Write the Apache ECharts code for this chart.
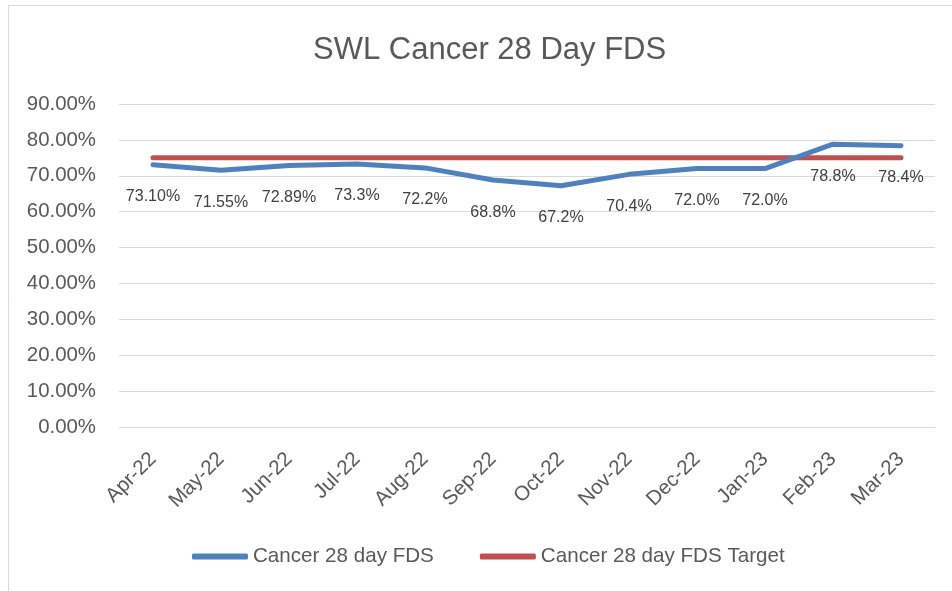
<!DOCTYPE html>
<html><head><meta charset="utf-8">
<script src="https://cdn.jsdelivr.net/npm/echarts@6/dist/echarts.min.js"></script>
<style>html,body{margin:0;padding:0;background:#fff}#c{width:952px;height:591px}</style>
</head><body><div id="c"></div>
<script>
const categories = ['Apr-22','May-22','Jun-22','Jul-22','Aug-22','Sep-22','Oct-22','Nov-22','Dec-22','Jan-23','Feb-23','Mar-23'];
const fdsValues = [73.10, 71.55, 72.89, 73.3, 72.2, 68.8, 67.2, 70.4, 72.0, 72.0, 78.8, 78.4];
const fdsLabels = ['73.10%','71.55%','72.89%','73.3%','72.2%','68.8%','67.2%','70.4%','72.0%','72.0%','78.8%','78.4%'];
const targetValues = [75, 75, 75, 75, 75, 75, 75, 75, 75, 75, 75, 75];
const yTicks = [0, 10, 20, 30, 40, 50, 60, 70, 80, 90];

const font = 'Liberation Sans';
const chart = echarts.init(document.getElementById('c'), null, {renderer: 'canvas'});
chart.setOption({
  animation: false,
  textStyle: {fontFamily: font},
  graphic: [{
    type: 'polyline', silent: true,
    shape: {points: [[8.5, 591], [8.5, 5.5], [952, 5.5]]},
    style: {stroke: '#d9d9d9', lineWidth: 1, fill: null}
  }],
  title: {
    text: 'SWL Cancer 28 Day FDS', left: 308, top: 30,
    textStyle: {fontFamily: font, fontSize: 31, fontWeight: 'normal', color: '#595959'}
  },
  legend: {
    top: 541, left: 187, itemGap: 46, itemWidth: 56, itemHeight: 6,
    icon: 'roundRect',
    textStyle: {fontFamily: font, fontSize: 20.6, color: '#595959'},
    data: ['Cancer 28 day FDS', 'Cancer 28 day FDS Target']
  },
  grid: {left: 119, right: 17, top: 104, bottom: 164, containLabel: false},
  xAxis: {
    type: 'category', data: categories, boundaryGap: true,
    axisLine: {show: true, lineStyle: {color: '#d9d9d9', width: 1}},
    axisTick: {show: false},
    axisLabel: {rotate: 45, fontFamily: font, fontSize: 20.5, color: '#595959', margin: 29}
  },
  yAxis: {
    type: 'value', min: 0, max: 90, interval: 10,
    axisLine: {show: false}, axisTick: {show: false},
    splitLine: {lineStyle: {color: '#d9d9d9', width: 1}},
    axisLabel: {fontFamily: font, fontSize: 20.4, color: '#595959', margin: 23,
      formatter: v => yTicks.includes(v) ? v.toFixed(2) + '%' : ''}
  },
  series: [{
    name: 'Cancer 28 day FDS', type: 'line', data: fdsValues,
    symbol: 'circle', symbolSize: 0.1, showSymbol: true,
    lineStyle: {color: '#4f81bd', width: 5, cap: 'round', join: 'round'},
    itemStyle: {color: '#4f81bd'},
    label: {show: true, position: 'bottom', distance: 24, fontFamily: font, fontSize: 16, color: '#404040',
      formatter: p => fdsLabels[p.dataIndex]},
    z: 3
  }, {
    name: 'Cancer 28 day FDS Target', type: 'line', data: targetValues,
    symbol: 'none', showSymbol: false,
    lineStyle: {color: '#c0504d', width: 5, cap: 'round'},
    itemStyle: {color: '#c0504d'},
    z: 2
  }]
});
</script></body></html>
